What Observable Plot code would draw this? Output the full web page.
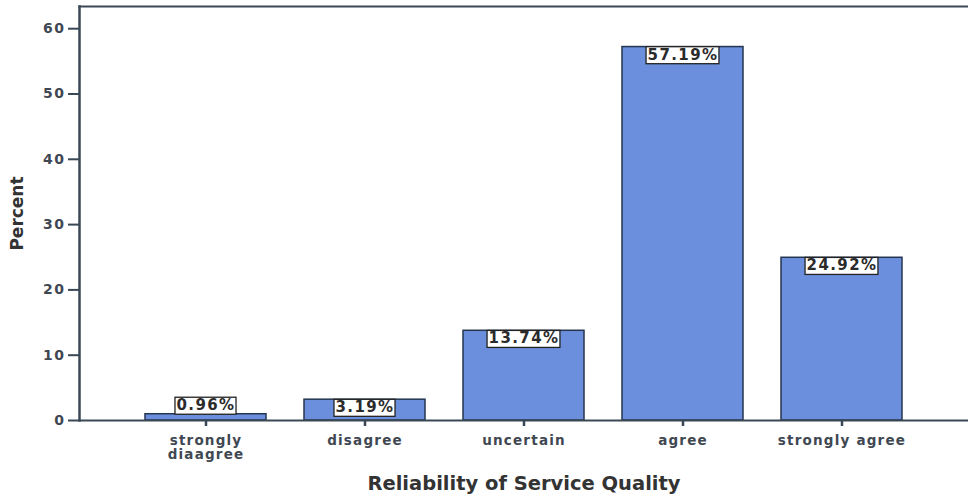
<!DOCTYPE html>
<html>
<head>
<meta charset="utf-8">
<script src="https://cdn.jsdelivr.net/npm/d3@7"></script>
<script src="https://cdn.jsdelivr.net/npm/@observablehq/plot@0.6"></script>
<style>
  html, body { margin: 0; padding: 0; background: #ffffff; }
  #chart svg { display: block; font-family: "DejaVu Sans", sans-serif; }
</style>
</head>
<body>
<div id="chart"></div>
<script>
const categories = ["strongly\ndiaagree", "disagree", "uncertain", "agree", "strongly agree"];
const percents = [0.96, 3.19, 13.74, 57.19, 24.92];
const yTicks = [0, 10, 20, 30, 40, 50, 60];
const xTitle = "Reliability of Service Quality";
const yTitle = "Percent";

const data = categories.map((c, i) => ({category: c, value: percents[i]}));
const axisColor = "#3a4856";
const textColor = "#3f4852";
const fmt = d => d.value.toFixed(2) + "%";

const plot = Plot.plot({
  width: 968,
  height: 496,
  marginTop: 6,
  marginRight: 0,
  marginBottom: 76,
  marginLeft: 79,
  style: {background: "transparent", fontFamily: "DejaVu Sans, sans-serif"},
  x: {domain: categories, paddingInner: 0.2375, paddingOuter: 0.4, label: null},
  y: {domain: [0, 63.4], label: null},
  marks: [
    Plot.barY(data, {x: "category", y: "value", fill: "#6c8fdd", stroke: "#24364f", strokeWidth: 1.5}),
    Plot.frame({anchor: "top", stroke: axisColor, strokeWidth: 2}),
    Plot.frame({anchor: "left", stroke: axisColor, strokeWidth: 2.5}),
    Plot.ruleY([0], {stroke: axisColor, strokeWidth: 2}),
    Plot.axisY({ticks: yTicks, tickSize: 11, tickPadding: 3, stroke: axisColor, strokeWidth: 2,
      fill: textColor, fontSize: 14, fontWeight: "bold", label: null, tickFormat: d => String(d)}),
    Plot.axisX({tickSize: 6, tickPadding: 8, stroke: axisColor, strokeWidth: 2.5,
      fill: textColor, fontSize: 13.5, fontWeight: "bold", label: null, lineHeight: 1.05}),
    Plot.text(data.filter(d => d.value >= 2), {x: "category", y: "value", text: fmt,
      lineAnchor: "top", dy: 2, fontSize: 15, fontWeight: "bold", fill: "#2b2b2b"}),
    Plot.text(data.filter(d => d.value < 2), {x: "category", y: "value", text: fmt,
      lineAnchor: "bottom", dy: -4, fontSize: 15, fontWeight: "bold", fill: "#2b2b2b"}),
    Plot.text([xTitle], {frameAnchor: "bottom", textAnchor: "middle", dy: 69, fontSize: 19.5, fontWeight: "bold", fill: "#333333"}),
    Plot.text([yTitle], {frameAnchor: "left", textAnchor: "middle", rotate: -90, dx: -62, fontSize: 17, fontWeight: "bold", fill: "#333333"})
  ]
});

document.getElementById("chart").appendChild(plot);

// letter spacing to mimic the wide, stretched lettering of the original
plot.querySelectorAll('g[aria-label="y-axis tick label"] text').forEach(t => t.setAttribute("letter-spacing", "1.5"));
plot.querySelectorAll('g[aria-label="x-axis tick label"] text').forEach(t => t.setAttribute("letter-spacing", "1.2"));
const labelTexts = new Set(data.map(fmt));
plot.querySelectorAll('g[aria-label="text"] text').forEach(t => {
  if (!labelTexts.has(t.textContent)) return;
  t.setAttribute("letter-spacing", "1.4");
  const bb = t.getBBox();
  const r = document.createElementNS("http://www.w3.org/2000/svg", "rect");
  r.setAttribute("x", bb.x - 1.5);
  r.setAttribute("y", bb.y + 1);
  r.setAttribute("width", bb.width + 2);
  r.setAttribute("height", bb.height - 1);
  r.setAttribute("fill", "#ffffff");
  r.setAttribute("stroke", "#222222");
  r.setAttribute("stroke-width", "1.3");
  const tr = t.getAttribute("transform");
  if (tr) r.setAttribute("transform", tr);
  t.parentNode.insertBefore(r, t);
});
</script>
</body>
</html>
